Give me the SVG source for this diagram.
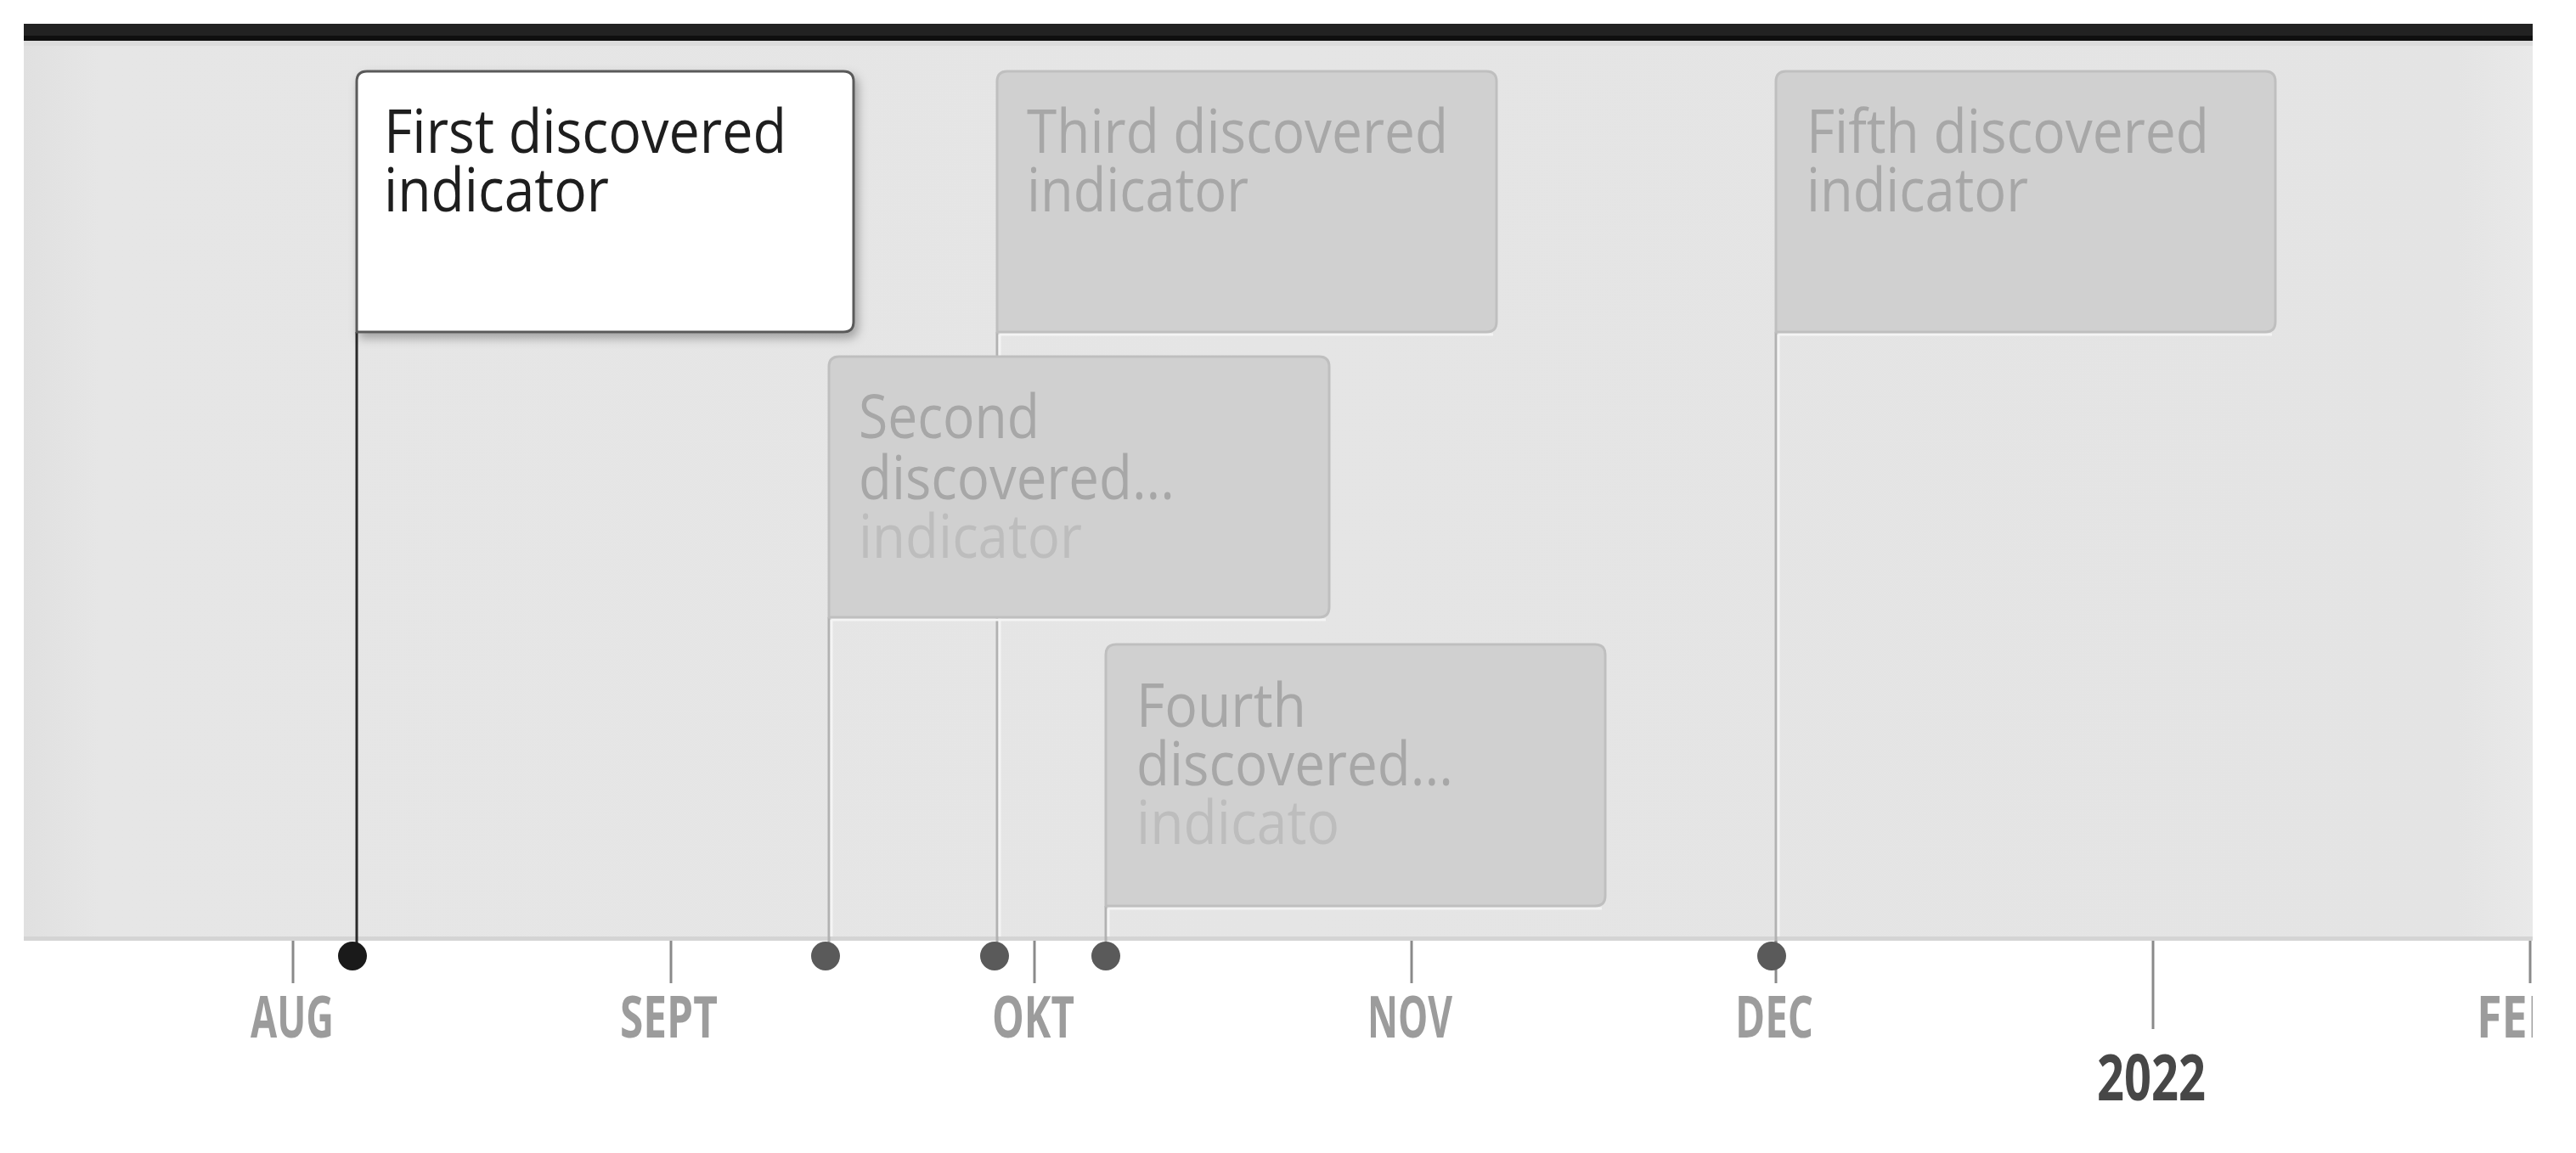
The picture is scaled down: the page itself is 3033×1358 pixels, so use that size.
<svg xmlns="http://www.w3.org/2000/svg" width="3033" height="1358" viewBox="0 0 3033 1358">
  <defs>
    <style>
      .lbl { font-family: "Open Sans", "Noto Sans", "DejaVu Sans", sans-serif; font-size: 72px; }
      .act { fill: #1e1e1e; }
      .dim { fill: #a7a7a7; }
      .fade { fill: #bdbdbd; }
      .box-on { fill: #ffffff; stroke: #5a5a5a; stroke-width: 3; }
      .box-off { fill: #d0d0d0; stroke: #bfbfbf; stroke-width: 3; }
      .hl { stroke: #f4f4f4; stroke-width: 3; fill: none; }
      .conn { stroke: #b2b2b2; stroke-width: 3; fill: none; }
      .conn-on { stroke: #2a2a2a; stroke-width: 3; fill: none; }
      .tick { stroke: #8a8a8a; stroke-width: 3; }
      .month { font-family: "Open Sans", "Noto Sans", "DejaVu Sans", sans-serif; font-weight: bold; font-size: 68px; fill: #9c9c9c; }
      .year { font-family: "Open Sans", "Noto Sans", "DejaVu Sans", sans-serif; font-weight: bold; font-size: 75px; fill: #474747; }
      .dot { fill: #5a5a5a; }
      .dot-on { fill: #1a1a1a; }
    </style>
    <filter id="shadow" x="-10%" y="-10%" width="125%" height="130%">
      <feDropShadow dx="4" dy="6" stdDeviation="6" flood-color="#000" flood-opacity="0.3"/>
    </filter>
    <linearGradient id="panelGrad" x1="0" y1="0" x2="1" y2="0">
      <stop offset="0" stop-color="#e0e0e0"/>
      <stop offset="0.03" stop-color="#e6e6e6"/>
      <stop offset="0.97" stop-color="#e4e4e4"/>
      <stop offset="1" stop-color="#e9e9e9"/>
    </linearGradient>
    <clipPath id="axisClip">
      <rect x="0" y="0" width="2982" height="1358"/>
    </clipPath>
  </defs>

  <rect x="0" y="0" width="3033" height="1358" fill="#ffffff"/>

  <!-- panel -->
  <g id="panel">
    <rect x="28" y="48" width="2954" height="1060" fill="url(#panelGrad)"/>
    <rect x="28" y="48" width="2954" height="6" fill="#dcdcdc"/>
    <rect x="28" y="1103" width="2954" height="5" fill="#d4d4d4"/>
    <rect x="28" y="28" width="2954" height="20" fill="#222222"/>
    <rect x="28" y="42" width="2954" height="6" fill="#0f0f0f"/>
  </g>

  <!-- connectors -->
  <g id="connectors">
    <line class="conn" x1="1174" y1="391" x2="1174" y2="1110"/>
    <line class="hl" x1="1177" y1="394" x2="1177" y2="1103"/>
    <line class="conn" x1="976" y1="727" x2="976" y2="1110"/>
    <line class="hl" x1="979" y1="730" x2="979" y2="1103"/>
    <line class="conn" x1="1302" y1="1067" x2="1302" y2="1110"/>
    <line class="hl" x1="1305" y1="1070" x2="1305" y2="1103"/>
    <line class="conn" x1="2091" y1="391" x2="2091" y2="1110"/>
    <line class="hl" x1="2094" y1="394" x2="2094" y2="1103"/>
    <line class="conn-on" x1="420" y1="391" x2="420" y2="1112"/>
  </g>

  <!-- third -->
  <g id="event-third">
    <line class="hl" x1="1177" y1="394" x2="1758" y2="394"/>
    <path class="box-off" d="M1174,391 V96 Q1174,84 1186,84 H1750 Q1762,84 1762,96 V379 Q1762,391 1750,391 Z"/>
    <text class="lbl dim" x="1209" y="180" textLength="496" lengthAdjust="spacingAndGlyphs">Third discovered</text>
    <text class="lbl dim" x="1209" y="249" textLength="261" lengthAdjust="spacingAndGlyphs">indicator</text>
  </g>

  <!-- fifth -->
  <g id="event-fifth">
    <line class="hl" x1="2094" y1="394" x2="2675" y2="394"/>
    <path class="box-off" d="M2091,391 V96 Q2091,84 2103,84 H2667 Q2679,84 2679,96 V379 Q2679,391 2667,391 Z"/>
    <text class="lbl dim" x="2127" y="180" textLength="474" lengthAdjust="spacingAndGlyphs">Fifth discovered</text>
    <text class="lbl dim" x="2127" y="249" textLength="261" lengthAdjust="spacingAndGlyphs">indicator</text>
  </g>

  <!-- second -->
  <g id="event-second">
    <line class="hl" x1="979" y1="730" x2="1561" y2="730"/>
    <path class="box-off" d="M976,727 V432 Q976,420 988,420 H1553 Q1565,420 1565,432 V715 Q1565,727 1553,727 Z"/>
    <text class="lbl dim" x="1011" y="516" textLength="213" lengthAdjust="spacingAndGlyphs">Second</text>
    <text class="lbl dim" x="1011" y="588" textLength="372" lengthAdjust="spacingAndGlyphs">discovered...</text>
    <text class="lbl fade" x="1011" y="657" textLength="263" lengthAdjust="spacingAndGlyphs">indicator</text>
  </g>

  <!-- fourth -->
  <g id="event-fourth">
    <line class="hl" x1="1305" y1="1070" x2="1886" y2="1070"/>
    <path class="box-off" d="M1302,1067 V771 Q1302,759 1314,759 H1878 Q1890,759 1890,771 V1055 Q1890,1067 1878,1067 Z"/>
    <text class="lbl dim" x="1338" y="856" textLength="200" lengthAdjust="spacingAndGlyphs">Fourth</text>
    <text class="lbl dim" x="1338" y="925" textLength="373" lengthAdjust="spacingAndGlyphs">discovered...</text>
    <text class="lbl fade" x="1338" y="994" textLength="239" lengthAdjust="spacingAndGlyphs">indicato</text>
  </g>

  <!-- first (active) -->
  <g id="event-first">
    <path class="box-on" filter="url(#shadow)" d="M420,391 V96 Q420,84 432,84 H993 Q1005,84 1005,96 V379 Q1005,391 993,391 Z"/>
    <text class="lbl act" x="452" y="180" textLength="474" lengthAdjust="spacingAndGlyphs">First discovered</text>
    <text class="lbl act" x="452" y="249" textLength="265" lengthAdjust="spacingAndGlyphs">indicator</text>
  </g>

  <!-- axis -->
  <g id="axis" clip-path="url(#axisClip)">
    <line class="tick" x1="345" y1="1108" x2="345" y2="1158"/>
    <line class="tick" x1="790" y1="1108" x2="790" y2="1158"/>
    <line class="tick" x1="1218" y1="1108" x2="1218" y2="1158"/>
    <line class="tick" x1="1662" y1="1108" x2="1662" y2="1158"/>
    <line class="tick" x1="2091" y1="1108" x2="2091" y2="1158"/>
    <line class="tick" x1="2535" y1="1108" x2="2535" y2="1212"/>
    <line class="tick" x1="2979" y1="1108" x2="2979" y2="1158"/>
    <text class="month" x="295" y="1222" textLength="98" lengthAdjust="spacingAndGlyphs">AUG</text>
    <text class="month" x="730" y="1222" textLength="115" lengthAdjust="spacingAndGlyphs">SEPT</text>
    <text class="month" x="1168" y="1222" textLength="97" lengthAdjust="spacingAndGlyphs">OKT</text>
    <text class="month" x="1610" y="1222" textLength="100" lengthAdjust="spacingAndGlyphs">NOV</text>
    <text class="month" x="2043" y="1222" textLength="92" lengthAdjust="spacingAndGlyphs">DEC</text>
    <text class="month" x="2916" y="1222" textLength="96" lengthAdjust="spacingAndGlyphs">FEB</text>
    <text class="year" x="2469" y="1296" textLength="128" lengthAdjust="spacingAndGlyphs">2022</text>
  </g>

  <!-- event dots -->
  <g id="dots">
    <circle class="dot-on" cx="415" cy="1126" r="17"/>
    <circle class="dot" cx="972" cy="1126" r="17"/>
    <circle class="dot" cx="1171" cy="1126" r="17"/>
    <circle class="dot" cx="1302" cy="1126" r="17"/>
    <circle class="dot" cx="2086" cy="1126" r="17"/>
  </g>
</svg>
